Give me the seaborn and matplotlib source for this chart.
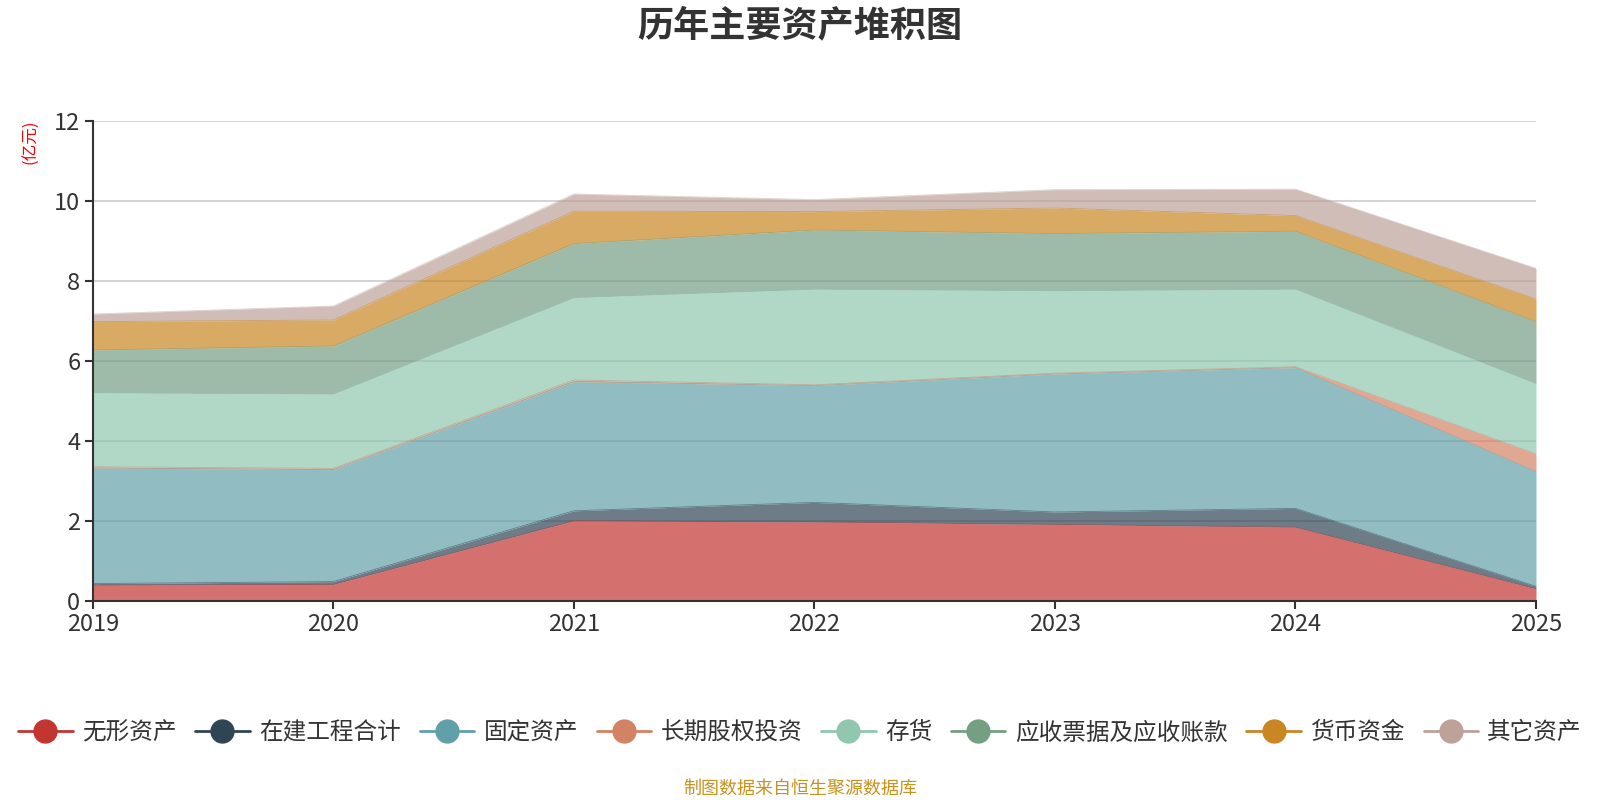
import numpy as np
import pandas as pd
import matplotlib
matplotlib.use("Agg")
import matplotlib.pyplot as plt
from matplotlib.lines import Line2D
import seaborn as sns

years = [2019, 2020, 2021, 2022, 2023, 2024, 2025]
series_names = ["无形资产", "在建工程合计", "固定资产", "长期股权投资", "存货",
                "应收票据及应收账款", "货币资金", "其它资产"]
intangible   = [0.39, 0.41, 2.00, 1.97, 1.91, 1.84, 0.30]
construction = [0.04, 0.07, 0.25, 0.49, 0.31, 0.47, 0.06]
fixed_assets = [2.89, 2.80, 3.23, 2.92, 3.45, 3.52, 2.87]
lt_equity    = [0.03, 0.03, 0.04, 0.02, 0.02, 0.02, 0.44]
inventory    = [1.85, 1.86, 2.06, 2.39, 2.06, 1.94, 1.76]
receivables  = [1.07, 1.20, 1.35, 1.48, 1.43, 1.45, 1.55]
cash         = [0.71, 0.65, 0.81, 0.46, 0.64, 0.39, 0.56]
other        = [0.19, 0.35, 0.43, 0.30, 0.46, 0.66, 0.77]
colors = ["#c23531", "#2f4554", "#61a0a8", "#d48265", "#91c7ae",
          "#749f83", "#ca8622", "#bda29a"]

values = [intangible, construction, fixed_assets, lt_equity, inventory,
          receivables, cash, other]

sns.set_style("white")
plt.rcParams['font.family'] = ['Noto Sans CJK SC', 'DejaVu Sans']
plt.rcParams['axes.unicode_minus'] = False

fig = plt.figure(figsize=(16, 8), dpi=100)
ax = fig.add_axes([0.058, 0.249, 0.902, 0.600])

x = np.array(years, dtype=float)
base = np.zeros(len(years))
for name, vals, col in zip(series_names, values, colors):
    top = base + np.array(vals)
    ax.fill_between(x, base, top, color=col, alpha=0.7, linewidth=0, zorder=2)
    df = pd.DataFrame({"year": x, "v": top})
    sns.lineplot(data=df, x="year", y="v", ax=ax, color=col, linewidth=0.6,
                 alpha=0.5, zorder=3)
    base = top

ax.set_xlim(2019, 2025)
ax.set_ylim(0, 12)
ax.set_xticks(years)
ax.set_xticklabels([str(y) for y in years])
ax.set_yticks(range(0, 13, 2))
ax.set_xlabel("")
ax.set_ylabel("")
ax.grid(axis='y', color='#cccccc', linewidth=1.2, zorder=1)
ax.grid(axis='x', visible=False)
ax.set_axisbelow(True)
for s in ["top", "right"]:
    ax.spines[s].set_visible(False)
for s in ["left", "bottom"]:
    ax.spines[s].set_color("#333333")
    ax.spines[s].set_linewidth(1.5)
    ax.spines[s].set_zorder(4)
ax.tick_params(axis='both', which='both', direction='out', length=6, width=1.5,
               color='#333333', labelcolor='#333333', labelsize=17, pad=3,
               left=True, bottom=True)

fig.text(0.5, 0.968, "历年主要资产堆积图", ha='center', va='center',
         fontsize=26, fontweight='bold', color='#333333')
fig.text(0.0195, 0.823, "(亿元)", ha='center', va='center', rotation=90,
         fontsize=12, color='#ff0000')

handles = [Line2D([0], [0], color=c, linewidth=2, marker='o', markersize=16.5,
                  markerfacecolor=c, markeredgecolor=c) for c in colors]
fig.legend(handles, series_names, loc='center', bbox_to_anchor=(0.5, 0.084),
           ncol=8, frameon=False, fontsize=17, handlelength=2.3,
           handletextpad=0.4, columnspacing=0.8, labelcolor='#333333')

fig.text(0.5, 0.014, "制图数据来自恒生聚源数据库", ha='center', va='center',
         fontsize=13, color='#c8921f')

fig.savefig("out.png", dpi=100)
